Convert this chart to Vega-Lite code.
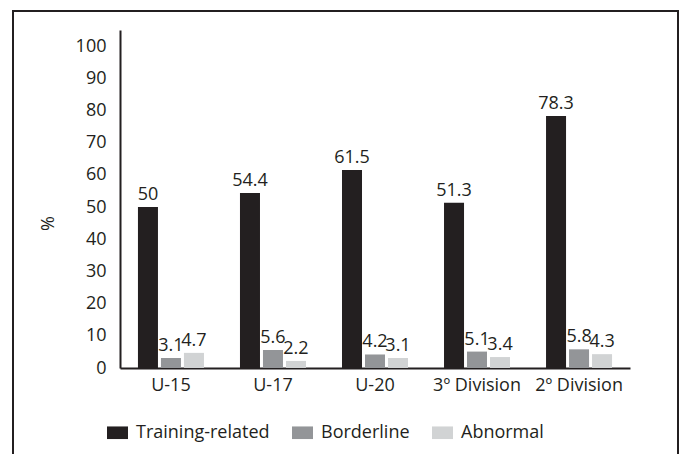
{
  "$schema": "https://vega.github.io/schema/vega-lite/v6.json",
  "width": 665,
  "height": 448,
  "autosize": {"type": "none"},
  "padding": {"left": 13, "top": 11, "right": 4, "bottom": 0},
  "background": "white",
  "view": {"stroke": "#231f20", "strokeWidth": 2, "fill": "white"},
  "config": {"font": "Open Sans"},
  "data": {
    "values": [
      {"group": "U-15", "series": "Training-related", "value": 50},
      {"group": "U-15", "series": "Borderline", "value": 3.1},
      {"group": "U-15", "series": "Abnormal", "value": 4.7},
      {"group": "U-17", "series": "Training-related", "value": 54.4},
      {"group": "U-17", "series": "Borderline", "value": 5.6},
      {"group": "U-17", "series": "Abnormal", "value": 2.2},
      {"group": "U-20", "series": "Training-related", "value": 61.5},
      {"group": "U-20", "series": "Borderline", "value": 4.2},
      {"group": "U-20", "series": "Abnormal", "value": 3.1},
      {"group": "3º Division", "series": "Training-related", "value": 51.3},
      {"group": "3º Division", "series": "Borderline", "value": 5.1},
      {"group": "3º Division", "series": "Abnormal", "value": 3.4},
      {"group": "2º Division", "series": "Training-related", "value": 78.3},
      {"group": "2º Division", "series": "Borderline", "value": 5.8},
      {"group": "2º Division", "series": "Abnormal", "value": 4.3}
    ]
  },
  "encoding": {
    "x": {
      "field": "group",
      "type": "nominal",
      "sort": ["U-15", "U-17", "U-20", "3º Division", "2º Division"],
      "scale": {"range": [107, 617], "paddingInner": 0.353, "paddingOuter": 0.176},
      "axis": {
        "title": null,
        "ticks": false,
        "domainColor": "#231f20",
        "domainWidth": 2,
        "offset": -91,
        "labelPadding": 8,
        "labelAngle": 0,
        "labelFontSize": 18,
        "labelColor": "#231f20",
        "grid": false
      }
    },
    "xOffset": {
      "field": "series",
      "type": "nominal",
      "sort": ["Training-related", "Borderline", "Abnormal"],
      "scale": {"paddingInner": 0.13, "paddingOuter": 0}
    },
    "y": {
      "field": "value",
      "type": "quantitative",
      "scale": {"domain": [0, 105], "range": [357, 19], "nice": false},
      "axis": {
        "title": "%",
        "values": [0, 10, 20, 30, 40, 50, 60, 70, 80, 90, 100],
        "ticks": false,
        "grid": false,
        "domainColor": "#231f20",
        "domainWidth": 2,
        "offset": -107,
        "labelPadding": 14,
        "labelFontSize": 18,
        "labelColor": "#231f20",
        "titleFontSize": 18,
        "titleFontWeight": "normal",
        "titleColor": "#231f20",
        "titleX": -72,
        "titleY": 212,
        "titleBaseline": "middle"
      }
    }
  },
  "layer": [
    {
      "mark": {"type": "bar"},
      "encoding": {
        "color": {
          "field": "series",
          "type": "nominal",
          "scale": {
            "domain": ["Training-related", "Borderline", "Abnormal"],
            "range": ["#231f20", "#939598", "#d1d3d4"]
          },
          "legend": {
            "title": null,
            "orient": "none",
            "legendX": 94,
            "legendY": 411,
            "direction": "horizontal",
            "symbolType": "M-1,-0.6H1V0.6H-1Z",
            "symbolSize": 441,
            "symbolStrokeWidth": 0,
            "symbolOpacity": 1,
            "labelFontSize": 18,
            "labelColor": "#231f20",
            "labelOffset": 8,
            "columnPadding": 22
          }
        }
      }
    },
    {
      "mark": {"type": "text", "dy": -7, "baseline": "alphabetic", "fontSize": 18, "color": "#231f20"},
      "encoding": {
        "text": {"field": "value", "type": "quantitative", "format": "~g"}
      }
    }
  ]
}
